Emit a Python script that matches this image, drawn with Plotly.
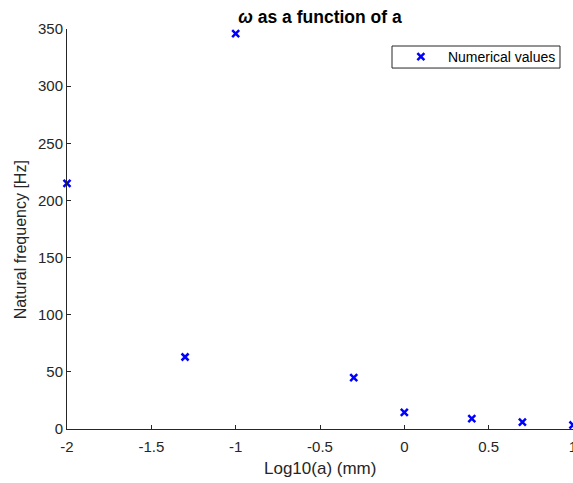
import plotly.graph_objects as go

log_a = [-2, -1.3, -1, -0.3, 0, 0.4, 0.7, 1]
freq = [215, 63, 346, 45, 14.5, 9, 6, 3.5]
x_ticks = [-2, -1.5, -1, -0.5, 0, 0.5, 1]
x_tick_text = ["-2", "-1.5", "-1", "-0.5", "0", "0.5", "1"]
y_ticks = [0, 50, 100, 150, 200, 250, 300, 350]

FONT = "Liberation Sans, Arial, Helvetica, sans-serif"
AX = "#262626"

fig = go.Figure()
fig.add_trace(go.Scatter(
    x=log_a, y=freq, mode="markers", name="Numerical values",
    marker=dict(symbol="x-thin", size=7, color="blue",
                line=dict(color="blue", width=2.5)),
    cliponaxis=False,
))

fig.update_layout(
    width=573, height=483,
    margin=dict(l=67, r=0, t=29, b=54, autoexpand=False),
    paper_bgcolor="white", plot_bgcolor="white",
    font=dict(family=FONT, size=14, color=AX),
    title=dict(text="<i>ω</i> as a function of a", x=0.5, xref="paper",
               y=0.978, yanchor="top",
               font=dict(family=FONT, size=17.5, color="black", weight="bold")),
    showlegend=True,
    legend=dict(x=0.646, y=0.970, xanchor="left", yanchor="top",
                bgcolor="rgba(0,0,0,0)", borderwidth=0,
                font=dict(family=FONT, size=14, color="black"),
                itemwidth=44),
    shapes=[dict(type="rect", xref="paper", yref="paper",
                 x0=0.6423, x1=0.9743, y0=0.9024, y1=0.9575,
                 line=dict(color=AX, width=1), fillcolor="rgba(0,0,0,0)",
                 layer="below")],
    annotations=[
        dict(text="Log10(a) (mm)", xref="paper", yref="paper", x=0.5, y=-0.098,
             xanchor="center", yanchor="middle", showarrow=False,
             font=dict(family=FONT, size=17, color=AX)),
        dict(text="Natural frequency [Hz]", xref="paper", yref="paper",
             x=-0.093, y=0.474, xanchor="center", yanchor="middle",
             textangle=-90, showarrow=False,
             font=dict(family=FONT, size=16, color=AX)),
    ],
)
fig.update_xaxes(
    range=[-2, 1], tickvals=x_ticks, ticktext=x_tick_text,
    showgrid=False, zeroline=False, showline=True, linecolor=AX, linewidth=1,
    ticks="inside", ticklen=4, tickcolor=AX, automargin=False,
    tickfont=dict(size=15, color=AX), ticklabelstandoff=4,
    ticklabeloverflow="allow",
)
fig.update_yaxes(
    range=[0, 350], tickvals=y_ticks, automargin=False,
    showgrid=False, zeroline=False, showline=True, linecolor=AX, linewidth=1,
    ticks="inside", ticklen=4, tickcolor=AX,
    tickfont=dict(size=15, color=AX),
)

fig.write_html("out.html")
